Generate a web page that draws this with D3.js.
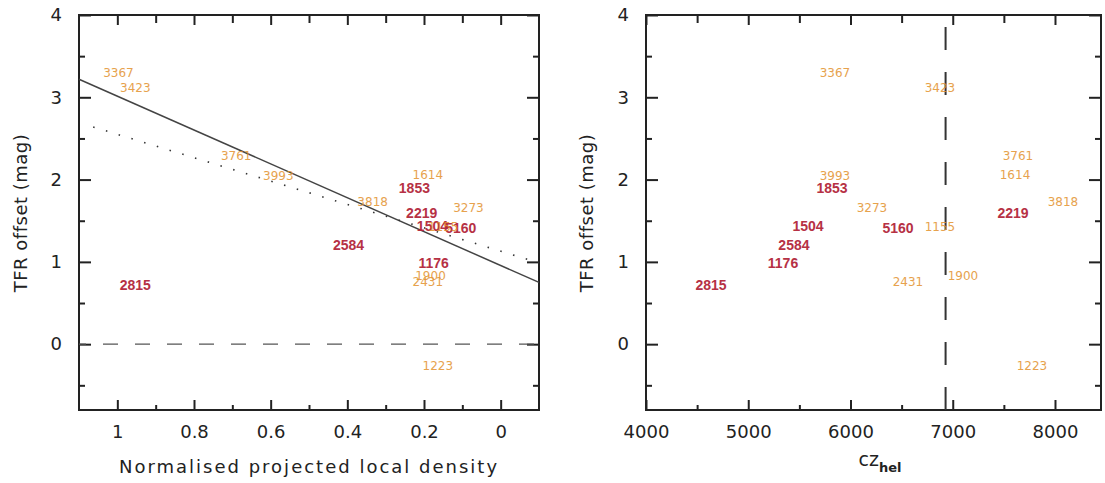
<!DOCTYPE html>
<html><head><meta charset="utf-8">
<script src="https://cdn.jsdelivr.net/npm/d3@7"></script>
<style>
body{margin:0;background:#fff;}
svg{display:block;}
.tick text{font-family:"DejaVu Sans",sans-serif;font-size:18px;fill:#222;}
</style></head><body>
<svg id="c" width="1105" height="483"></svg>
<script>
// ---- data ----
const galaxyIds = ["3367","3423","3761","3993","1614","1853","3818","3273","2219","1504","5160","1155","2584","1176","1900","2431","2815","1223"];
const galaxyGroup = ["o","o","o","o","o","r","o","o","r","r","r","o","r","r","o","o","r","o"];
const localDensity = [0.997,0.953,0.69,0.58,0.19,0.225,0.334,0.084,0.206,0.178,0.104,0.15,0.397,0.175,0.183,0.19,0.953,0.164];
const czHel = [5848,6875,7638,5848,7609,5820,8078,6210,7589,5584,6465,6875,5447,5340,7100,6562,4636,7775];
const tfrOffset = [3.30,3.11,2.29,2.04,2.06,1.90,1.73,1.65,1.60,1.44,1.41,1.42,1.21,0.99,0.83,0.75,0.72,-0.27];
const solidFit = [0.956, 2.058];   // intercept, slope
const dottedFit = [1.13, 1.42];
const dottedRange = [1.063, -0.1];
const czCut = [6930];
const yMajor = [0,1,2,3,4];
const yMinor = [-0.5,0.5,1.5,2.5,3.5];
const densMajor = [1,0.8,0.6,0.4,0.2,0];
const densMinor = [0.9,0.7,0.5,0.3,0.1];
const czMajor = [4000,5000,6000,7000,8000];
const czMinor = [4500,5500,6500,7500];

const svg = d3.select("#c");
const topY = 15, botY = 410;
const y = d3.scaleLinear().domain([-0.8,4]).range([botY, topY]);
const xL = d3.scaleLinear().domain([1.1,-0.1]).range([79, 539]);
const xR = d3.scaleLinear().domain([4000,8450]).range([646, 1101]);
const colors = {r:"#b3263a", o:"#e3922e"};

function frame(x, xMaj, xMin) {
  const g = svg.append("g");
  const ax = (gen, tr) => {
    const a = g.append("g").attr("transform", tr).call(gen);
    a.select(".domain").remove();
    a.selectAll(".tick line").attr("stroke","#222").attr("stroke-width",2);
    return a;
  };
  ax(d3.axisBottom(x).tickValues(xMaj).tickSize(-10).tickPadding(15).tickFormat(d=>String(d)), `translate(0,${botY})`);
  ax(d3.axisBottom(x).tickValues(xMin).tickSize(-5).tickFormat(""), `translate(0,${botY})`);
  ax(d3.axisTop(x).tickValues(xMaj).tickSize(-10).tickFormat(""), `translate(0,${topY})`);
  ax(d3.axisTop(x).tickValues(xMin).tickSize(-8).tickFormat(""), `translate(0,${topY})`);
  const [x0,x1] = x.range();
  ax(d3.axisLeft(y).tickValues(yMajor).tickSize(-12).tickPadding(17).tickFormat(d=>String(d)), `translate(${x0},0)`);
  ax(d3.axisLeft(y).tickValues(yMinor).tickSize(-6).tickFormat(""), `translate(${x0},0)`);
  ax(d3.axisRight(y).tickValues(yMajor).tickSize(-12).tickFormat(""), `translate(${x1},0)`);
  ax(d3.axisRight(y).tickValues(yMinor).tickSize(-6).tickFormat(""), `translate(${x1},0)`);
  g.append("rect").attr("x",x0).attr("y",topY).attr("width",x1-x0).attr("height",botY-topY)
    .attr("fill","none").attr("stroke","#222").attr("stroke-width",2);
  return g;
}

function labels(x, xv) {
  const g = svg.append("g");
  galaxyIds.forEach((id,i)=>{
    const red = galaxyGroup[i]==="r";
    g.append("text").attr("x",x(xv[i])).attr("y",y(tfrOffset[i]))
      .attr("text-anchor","middle").attr("dominant-baseline","central")
      .attr("font-family", red ? "'Liberation Sans',Arial,sans-serif" : "'DejaVu Sans',sans-serif")
      .attr("font-size", red ? 14 : 12)
      .attr("font-weight", red ? "bold" : "normal")
      .attr("fill", colors[galaxyGroup[i]])
      .attr("opacity", red ? 0.95 : 0.85)
      .text(id);
  });
}

// ---- left panel ----
frame(xL, densMajor, densMinor);
svg.append("line").attr("x1",xL(1.1)).attr("x2",xL(-0.1)).attr("y1",y(0)).attr("y2",y(0))
  .attr("stroke","#555").attr("stroke-width",1.2).attr("stroke-dasharray","15,17").attr("stroke-dashoffset",-24);
svg.append("line")
  .attr("x1",xL(1.1)).attr("y1",y(solidFit[0]+solidFit[1]*1.1))
  .attr("x2",xL(-0.1)).attr("y2",y(solidFit[0]+solidFit[1]*(-0.1)))
  .attr("stroke","#444").attr("stroke-width",1.5);
svg.append("line")
  .attr("x1",xL(dottedRange[0])).attr("y1",y(dottedFit[0]+dottedFit[1]*dottedRange[0]))
  .attr("x2",xL(dottedRange[1])).attr("y2",y(dottedFit[0]+dottedFit[1]*dottedRange[1]))
  .attr("stroke","#333").attr("stroke-width",1.6).attr("stroke-dasharray","1.5,11.8");
labels(xL, localDensity);

// ---- right panel ----
frame(xR, czMajor, czMinor);
svg.append("line").attr("x1",xR(czCut[0])).attr("x2",xR(czCut[0])).attr("y1",topY).attr("y2",botY)
  .attr("stroke","#333").attr("stroke-width",2).attr("stroke-dasharray","23,22").attr("stroke-dashoffset",33);
labels(xR, czHel);

// ---- axis titles ----
const tf = "'DejaVu Sans',sans-serif";
[20, 586].forEach(cx=>{
  svg.append("text").attr("transform",`translate(${cx},213) rotate(-90)`)
    .attr("text-anchor","middle").attr("dominant-baseline","central")
    .attr("font-family",tf).attr("font-size",18).attr("fill","#222").attr("letter-spacing",0.5)
    .text("TFR offset (mag)");
});
svg.append("text").attr("x",309).attr("y",466).attr("text-anchor","middle").attr("dominant-baseline","central")
  .attr("font-family",tf).attr("font-size",18).attr("fill","#222").attr("letter-spacing",2)
  .text("Normalised projected local density");
const cz = svg.append("text").attr("x",880).attr("y",466).attr("text-anchor","middle")
  .attr("font-family",tf).attr("font-size",19).attr("fill","#222");
cz.append("tspan").text("cz");
cz.append("tspan").attr("dy",6).attr("font-size",13).attr("font-weight","bold").text("hel");
</script>
</body></html>
